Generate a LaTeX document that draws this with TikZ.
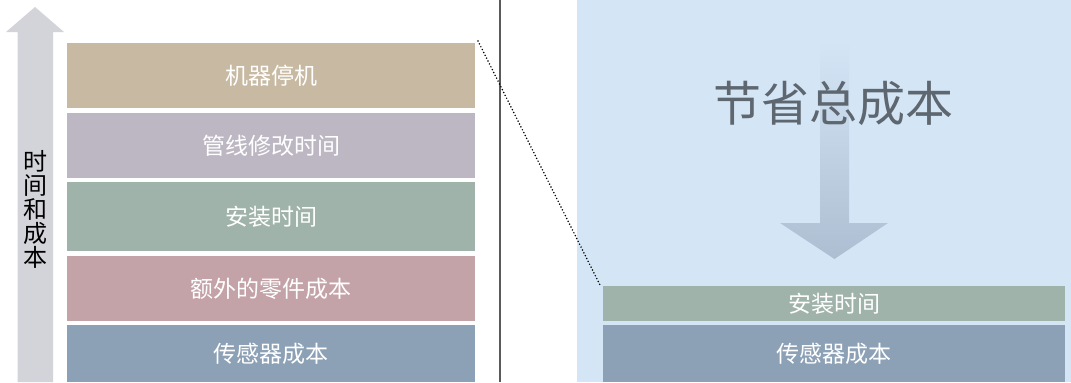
\documentclass[tikz,border=0pt]{standalone}
\usepackage{fontspec}
\newfontfamily\cjk{Noto Sans CJK SC}
\definecolor{cTan}{HTML}{C8B9A2}
\definecolor{cLav}{HTML}{BDB7C3}
\definecolor{cGrn}{HTML}{A0B3AA}
\definecolor{cPnk}{HTML}{C4A3A8}
\definecolor{cBlu}{HTML}{8DA1B6}
\definecolor{cBg}{HTML}{D4E6F6}
\definecolor{cArr}{HTML}{AEBED2}
\definecolor{cGray}{HTML}{D3D3DA}
\definecolor{cTitle}{HTML}{5E6670}
\definecolor{cLine}{HTML}{5A5A5A}
\begin{document}
\begin{tikzpicture}[x=1bp,y=-1bp,
  bar/.style={anchor=north west,inner sep=0pt,outer sep=0pt,
    font=\cjk\fontsize{23bp}{27bp}\selectfont,text=white},
  dotline/.style={line width=1.7bp,line cap=round,dash pattern=on 0bp off 3.2bp,black}]
\useasboundingbox (0,0) rectangle (1071,382);
% right background
\fill[cBg] (577,0) rectangle (1071,382);
% separator
\draw[cLine,line width=1.2bp] (500,0) -- (500,382);
% left arrow
\fill[cGray] (17.5,382) -- (17.5,32) -- (6,32) -- (35,7) -- (64,32) -- (53,32) -- (53,382) -- cycle;
\node[font=\cjk\fontsize{24bp}{24bp}\selectfont,align=center,inner sep=0pt,text=black] (vt) at (35,209) {时\\间\\和\\成\\本};
% left bars
\node[bar,fill=cTan,minimum width=408bp,minimum height=65bp] (b1) at (67,43) {机器停机};
\node[bar,fill=cLav,minimum width=408bp,minimum height=65bp] (b2) at (67,113) {管线修改时间};
\node[bar,fill=cGrn,minimum width=408bp,minimum height=69bp] (b3) at (67,182) {安装时间};
\node[bar,fill=cPnk,minimum width=408bp,minimum height=65bp] (b4) at (67,256) {额外的零件成本};
\node[bar,fill=cBlu,minimum width=408bp,minimum height=57bp] (b5) at (67,325) {传感器成本};
% down arrow
\shade[top color=cBg,middle color=cArr!85!cBg,bottom color=cArr]
  (820,40) -- (849,40) -- (849,223) -- (888,223) -- (834.5,259) -- (780,223) -- (820,223) -- cycle;
\node[font=\cjk\fontsize{48bp}{48bp}\selectfont,text=cTitle,inner sep=0pt] (title) at (833,103) {节省总成本};
% right bars
\node[bar,fill=cGrn,minimum width=462bp,minimum height=35bp] (r1) at (603,286) {安装时间};
\node[bar,fill=cBlu,minimum width=462bp,minimum height=57bp] (r2) at (603,325) {传感器成本};
% dotted connector
\draw[dotline] ([xshift=3bp,yshift=2bp]b1.north east) -- ([xshift=-2bp,yshift=-1bp]r1.north west);
\end{tikzpicture}
\end{document}
